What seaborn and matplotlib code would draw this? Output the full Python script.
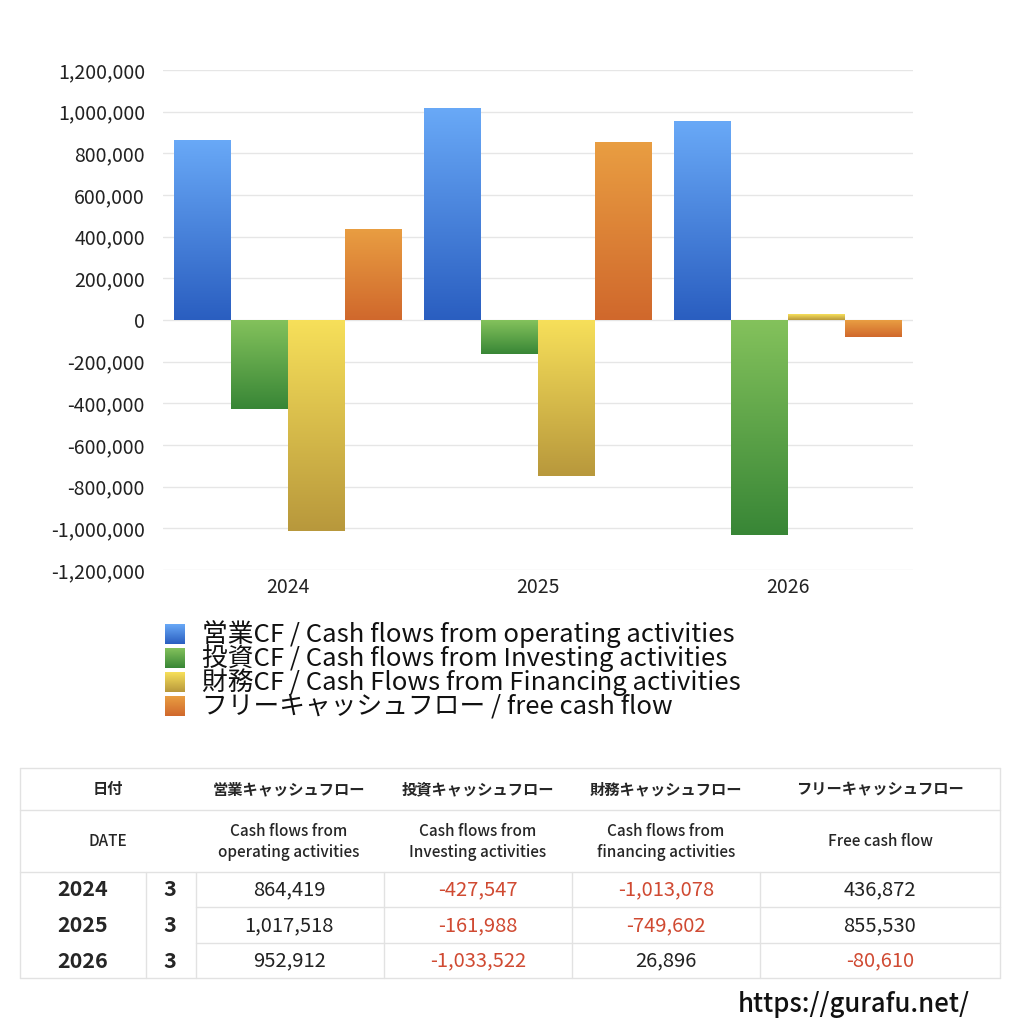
import numpy as np
import pandas as pd
import seaborn as sns
import matplotlib.pyplot as plt
from matplotlib.colors import LinearSegmentedColormap
from matplotlib.lines import Line2D
from matplotlib.ticker import FuncFormatter

# data (from the table in the reference)
years = ["2024", "2025", "2026"]
months = ["3", "3", "3"]
operating = [864419, 1017518, 952912]
investing = [-427547, -161988, -1033522]
financing = [-1013078, -749602, 26896]
free_cf = [436872, 855530, -80610]

series_labels = [
    "営業CF / Cash flows from operating activities",
    "投資CF / Cash flows from Investing activities",
    "財務CF / Cash Flows from Financing activities",
    "フリーキャッシュフロー / free cash flow",
]
yticks = [-1200000, -1000000, -800000, -600000, -400000, -200000, 0,
          200000, 400000, 600000, 800000, 1000000, 1200000]

# gradient colours (top, bottom) per series
grad = [("#69a9f7", "#2a5ec0"), ("#84c25c", "#388636"),
        ("#f7e05a", "#b8983c"), ("#e99e42", "#d0682c")]

sns.set_theme(style="white")
plt.rcParams["font.family"] = ["Noto Sans CJK JP", "DejaVu Sans"]

df = pd.DataFrame({
    "year": years * 4,
    "series": [s for s in series_labels for _ in years],
    "value": operating + investing + financing + free_cf,
})

fig = plt.figure(figsize=(10.24, 10.24), dpi=100)
ax = fig.add_axes([163 / 1024, 1 - 570 / 1024, 750 / 1024, 500 / 1024])

sns.barplot(data=df, x="year", y="value", hue="series", hue_order=series_labels,
            palette=[g[0] for g in grad], width=0.91, gap=0, ax=ax,
            legend=False, errorbar=None)

grad_img = np.linspace(0, 1, 256).reshape(-1, 1)
cmaps = [LinearSegmentedColormap.from_list("g%d" % i, [g[0], g[1]]) for i, g in enumerate(grad)]

# replace flat fills with vertical gradients
for i, cont in enumerate(ax.containers):
    for p in cont.patches:
        x0, w = p.get_x(), p.get_width()
        y0, h = p.get_y(), p.get_height()
        lo, hi = min(y0, y0 + h), max(y0, y0 + h)
        im = ax.imshow(grad_img, cmap=cmaps[i], extent=[x0, x0 + w, lo, hi],
                       aspect="auto", origin="upper", zorder=2)
        im.set_clip_path(p)
        p.set_facecolor("none")
        p.set_edgecolor("none")

ax.set_ylim(-1200000, 1200000)
ax.set_xlim(-0.5, 2.5)
ax.set_yticks(yticks)
ax.yaxis.set_major_formatter(FuncFormatter(lambda v, _: f"{int(v):,}"))
ax.grid(axis="y", color="#e6e6e6", linewidth=1, zorder=0)
ax.set_axisbelow(True)
for s in ax.spines.values():
    s.set_visible(False)
ax.tick_params(axis="both", length=0, labelsize=14, colors="#222222")
ax.tick_params(axis="y", pad=13)
ax.tick_params(axis="x", pad=5)
ax.set_xlabel("")
ax.set_ylabel("")


def fx(x):
    return x / 1024


def fy(y):
    return 1 - y / 1024


# legend: gradient squares + labels
for i, lab in enumerate(series_labels):
    cy = 634 + 24 * i
    lax = fig.add_axes([fx(165), fy(cy + 10), 20 / 1024, 20 / 1024])
    lax.imshow(grad_img, cmap=cmaps[i], aspect="auto")
    lax.axis("off")
    fig.text(fx(202), fy(cy), lab, ha="left", va="center", fontsize=18.5, color="#111111")


# table drawn in pixel coordinates
def hline(y, x0, x1):
    fig.add_artist(Line2D([fx(x0), fx(x1)], [fy(y), fy(y)], color="#e2e2e2",
                          linewidth=1, transform=fig.transFigure))


def vline(x, y0, y1):
    fig.add_artist(Line2D([fx(x), fx(x)], [fy(y0), fy(y1)], color="#e2e2e2",
                          linewidth=1, transform=fig.transFigure))


for y in [768, 810, 872, 978]:
    hline(y, 20, 1000)
for y in [907, 943]:
    hline(y, 196, 1000)
vline(20, 768, 978)
vline(1000, 768, 978)
for x in [146, 196, 384, 572, 760]:
    vline(x, 872, 978)

col_x = [289, 478, 666, 880]
head_jp = ["営業キャッシュフロー", "投資キャッシュフロー", "財務キャッシュフロー", "フリーキャッシュフロー"]
head_en = ["Cash flows from\noperating activities", "Cash flows from\nInvesting activities",
           "Cash flows from\nfinancing activities", "Free cash flow"]

fig.text(fx(108), fy(789), "日付", ha="center", va="center", fontsize=11, weight="bold")
fig.text(fx(108), fy(842), "DATE", ha="center", va="center", fontsize=11, weight="medium")
for cx, hj, he in zip(col_x, head_jp, head_en):
    fig.text(fx(cx), fy(789), hj, ha="center", va="center", fontsize=11, weight="bold")
    fig.text(fx(cx), fy(842), he, ha="center", va="center", fontsize=11,
             weight="medium", linespacing=1.3)

cols = [operating, investing, financing, free_cf]
row_y = [890, 926, 961]
for r, (yr, mo) in enumerate(zip(years, months)):
    fig.text(fx(83), fy(row_y[r]), yr, ha="center", va="center", fontsize=15.5, weight="bold")
    fig.text(fx(170), fy(row_y[r]), mo, ha="center", va="center", fontsize=15.5, weight="bold")
    for c, cx in enumerate(col_x):
        v = cols[c][r]
        fig.text(fx(cx), fy(row_y[r]), f"{v:,}", ha="center", va="center", fontsize=14.5,
                 color="#d04a32" if v < 0 else "#222222")

fig.text(fx(970), fy(1004), "https://gurafu.net/", ha="right", va="center",
         fontsize=18.5, weight="medium", color="#111111")

fig.savefig("out.png", dpi=100, facecolor="white")
